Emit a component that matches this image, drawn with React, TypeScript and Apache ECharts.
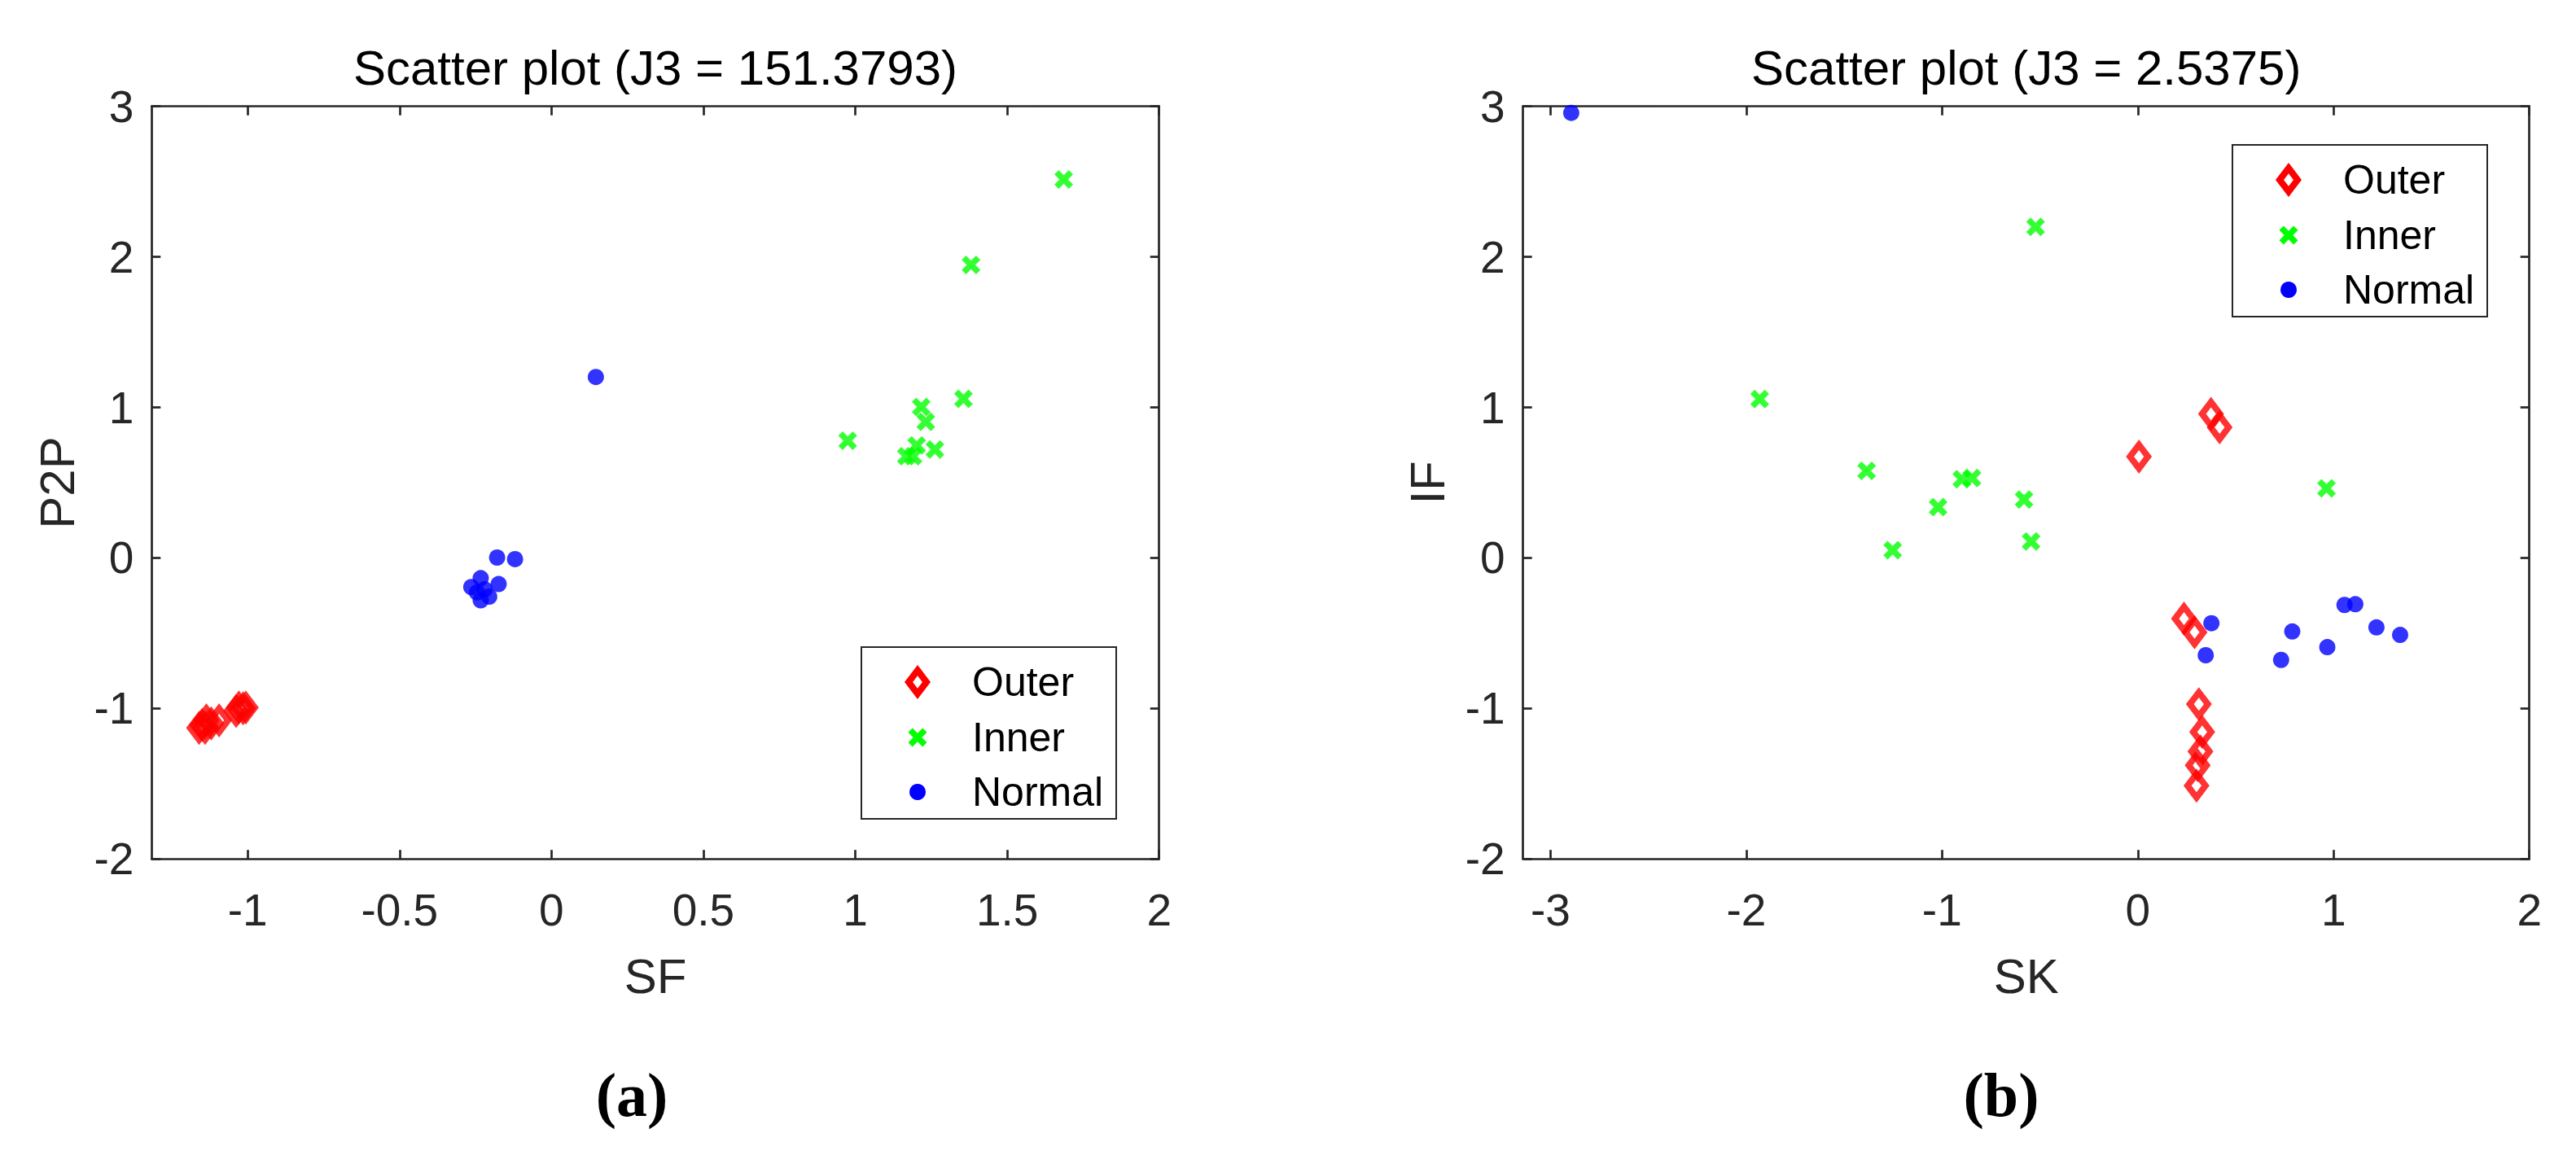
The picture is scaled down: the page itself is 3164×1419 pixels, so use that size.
import React, { useEffect, useRef } from "react";
import * as echarts from "echarts";

const W = 3164;
const H = 1419;

// ---------- data ----------
const seriesNames = ["Outer", "Inner", "Normal"];

// (a) SF vs P2P
const outerA_SF = [-1.160, -1.150, -1.140, -1.136, -1.120, -1.094, -1.038, -1.029, -1.015, -1.006];
const outerA_P2P = [-1.129, -1.110, -1.129, -1.080, -1.100, -1.080, -1.017, -0.994, -1.000, -0.994];
const innerA_SF = [0.975, 1.168, 1.190, 1.202, 1.262, 1.217, 1.232, 1.356, 1.381, 1.686];
const innerA_P2P = [0.778, 0.675, 0.675, 0.747, 0.720, 1.003, 0.904, 1.057, 1.946, 2.514];
const normalA_SF = [0.146, -0.179, -0.120, -0.264, -0.233, -0.205, -0.233, -0.174, -0.220, -0.245];
const normalA_P2P = [1.202, 0.002, -0.008, -0.194, -0.135, -0.258, -0.282, -0.174, -0.209, -0.230];

// (b) SK vs IF
const outerB_SK = [0.006, 0.374, 0.418, 0.236, 0.290, 0.312, 0.329, 0.320, 0.306, 0.300];
const outerB_IF = [0.673, 0.957, 0.868, -0.404, -0.494, -0.972, -1.156, -1.286, -1.378, -1.513];
const innerB_SK = [-1.931, -1.385, -1.252, -1.020, -0.899, -0.847, -0.581, -0.545, -0.522, 0.964];
const innerB_IF = [1.055, 0.578, 0.051, 0.337, 0.523, 0.531, 0.388, 0.109, 2.199, 0.462];
const normalB_SK = [-2.894, 0.376, 0.347, 0.789, 0.732, 0.968, 1.056, 1.111, 1.219, 1.340];
const normalB_IF = [2.957, -0.434, -0.647, -0.489, -0.678, -0.593, -0.313, -0.308, -0.462, -0.512];

const xTicksA = [-1, -0.5, 0, 0.5, 1, 1.5, 2];
const xTicksB = [-3, -2, -1, 0, 1, 2];
const yTicks = [-2, -1, 0, 1, 2, 3];
const xRangeA = [-1.316, 2];
const xRangeB = [-3.14, 2];
const yRange = [-2, 3];

const titles = ["Scatter plot (J3 = 151.3793)", "Scatter plot (J3 = 2.5375)"];
const xNames = ["SF", "SK"];
const yNames = ["P2P", "IF"];
const panelTags = ["(a)", "(b)"];

// ---------- styling ----------
const FONT = "'Liberation Sans', Arial, Helvetica, sans-serif";
const SERIF = "'Liberation Serif', 'Times New Roman', serif";
const AXIS = "#262626";
const RED = "#ff0000";
const GREEN = "#00ff00";
const BLUE = "#0000ff";
const LW = 2.7;

const grids = [
  { left: 186.3, top: 130.7, width: 1237.4, height: 924.5 },
  { left: 1870.7, top: 130.7, width: 1236, height: 924.5 },
];

const X_PATH = "path://M0,2.3L2.3,0L5,2.7L7.7,0L10,2.3L7.3,5L10,7.7L7.7,10L5,7.3L2.3,10L0,7.7L2.7,5Z";
const X_BASE = [[0, 2.3], [2.3, 0], [5, 2.7], [7.7, 0], [10, 2.3], [7.3, 5], [10, 7.7], [7.7, 10], [5, 7.3], [2.3, 10], [0, 7.7], [2.7, 5]];

const zip = (xs: number[], ys: number[]) => xs.map((x, i) => [x, ys[i]]);

function xAxes(gridIndex: number, range: number[], ticks: number[]) {
  const common = {
    gridIndex,
    type: "value",
    min: range[0],
    max: range[1],
    axisLine: { show: true, onZero: false, lineStyle: { color: AXIS, width: LW } },
    axisTick: { show: true, inside: true, length: 11, customValues: ticks, lineStyle: { color: AXIS, width: LW } },
    splitLine: { show: false },
  };
  return [
    {
      ...common,
      position: "bottom",
      axisLabel: {
        show: true,
        customValues: ticks,
        margin: 35,
        color: AXIS,
        fontSize: 55,
        fontFamily: FONT,
        formatter: (v: number) => String(v),
      },
    },
    { ...common, position: "top", axisLabel: { show: false } },
  ];
}

function yAxes(gridIndex: number) {
  const common = {
    gridIndex,
    type: "value",
    min: yRange[0],
    max: yRange[1],
    interval: 1,
    axisLine: { show: true, onZero: false, lineStyle: { color: AXIS, width: LW } },
    axisTick: { show: true, inside: true, length: 11, customValues: yTicks, lineStyle: { color: AXIS, width: LW } },
    splitLine: { show: false },
  };
  return [
    {
      ...common,
      position: "left",
      axisLabel: {
        show: true,
        customValues: yTicks,
        margin: 22,
        color: AXIS,
        fontSize: 55,
        fontFamily: FONT,
        formatter: (v: number) => String(v),
      },
    },
    { ...common, position: "right", axisLabel: { show: false } },
  ];
}

function scatterSeries(axisIndex: number, outer: number[][], inner: number[][], normal: number[][]) {
  const base = {
    type: "scatter",
    xAxisIndex: axisIndex,
    yAxisIndex: axisIndex,
    silent: true,
    emphasis: { disabled: true },
  };
  return [
    {
      ...base,
      name: seriesNames[0],
      data: outer,
      symbol: "diamond",
      symbolSize: [22, 29],
      itemStyle: { color: "rgba(255,0,0,0)", borderColor: RED, borderWidth: 8, borderJoin: "miter", borderMiterLimit: 10 },
    },
    {
      ...base,
      name: seriesNames[1],
      data: inner,
      symbol: X_PATH,
      symbolSize: 23,
      itemStyle: { color: GREEN },
    },
    {
      ...base,
      name: seriesNames[2],
      data: normal,
      symbol: "circle",
      symbolSize: 20,
      itemStyle: { color: BLUE },
    },
  ];
}

function legendGroup(x: number, y: number) {
  const mx = 69;
  const rows = [43, 111, 178];
  const s = 2.3;
  const xPts = X_BASE.map(([px, py]) => [mx + (px - 5) * s, rows[1] + (py - 5) * s]);
  return {
    type: "group",
    x,
    y,
    z: 100,
    children: [
      { type: "rect", shape: { x: 0, y: 0, width: 313, height: 211 }, style: { fill: "#ffffff", stroke: AXIS, lineWidth: 2 } },
      {
        type: "polygon",
        shape: { points: [[mx, rows[0] - 14.5], [mx + 11, rows[0]], [mx, rows[0] + 14.5], [mx - 11, rows[0]]] },
        style: { fill: "none", stroke: RED, lineWidth: 8, lineJoin: "miter" },
      },
      { type: "polygon", shape: { points: xPts }, style: { fill: GREEN } },
      { type: "circle", shape: { cx: mx, cy: rows[2], r: 10 }, style: { fill: BLUE } },
      ...seriesNames.map((n, i) => ({
        type: "text",
        x: 136,
        y: rows[i],
        style: { text: n, fill: "#000000", fontSize: 50, fontFamily: FONT, align: "left", verticalAlign: "middle" },
      })),
    ],
  };
}

function textEl(text: string, x: number, y: number, size: number, opts: any = {}) {
  return {
    type: "text",
    x,
    y,
    z: 100,
    rotation: opts.rotation || 0,
    style: {
      text,
      fill: opts.color || AXIS,
      fontSize: size,
      fontFamily: opts.family || FONT,
      fontWeight: opts.weight || "normal",
      align: "center",
      verticalAlign: "middle",
    },
  };
}

function buildOption() {
  const cA = grids[0].left + grids[0].width / 2;
  const cB = grids[1].left + grids[1].width / 2;
  const midY = grids[0].top + grids[0].height / 2;
  return {
    animation: false,
    backgroundColor: "#ffffff",
    grid: grids.map((g) => ({ ...g, containLabel: false, outerBoundsMode: "none" })),
    xAxis: [...xAxes(0, xRangeA, xTicksA), ...xAxes(1, xRangeB, xTicksB)],
    yAxis: [...yAxes(0), ...yAxes(1)],
    series: [
      ...scatterSeries(0, zip(outerA_SF, outerA_P2P), zip(innerA_SF, innerA_P2P), zip(normalA_SF, normalA_P2P)),
      ...scatterSeries(2, zip(outerB_SK, outerB_IF), zip(innerB_SK, innerB_IF), zip(normalB_SK, normalB_IF)),
    ],
    graphic: [
      textEl(titles[0], cA, 83, 60, { color: "#000000" }),
      textEl(titles[1], cB, 83, 60, { color: "#000000" }),
      textEl(xNames[0], cA, 1199, 60),
      textEl(xNames[1], cB, 1199, 60),
      textEl(yNames[0], 70, midY, 60, { rotation: Math.PI / 2 }),
      textEl(yNames[1], 1753, midY, 60, { rotation: Math.PI / 2 }),
      textEl(panelTags[0], 776, 1345, 76, { color: "#000000", family: SERIF, weight: "bold" }),
      textEl(panelTags[1], 2458, 1345, 76, { color: "#000000", family: SERIF, weight: "bold" }),
      legendGroup(1058, 795),
      legendGroup(2742, 178),
    ],
  };
}

export default function App() {
  const ref = useRef<HTMLDivElement>(null);
  useEffect(() => {
    if (!ref.current) return;
    const chart = echarts.init(ref.current, null, { renderer: "svg", width: W, height: H });
    chart.setOption(buildOption() as any);
    return () => chart.dispose();
  }, []);
  return (
    <div
      ref={ref}
      style={{ position: "absolute", left: 0, top: 0, width: W, height: H, background: "#ffffff" }}
    />
  );
}
